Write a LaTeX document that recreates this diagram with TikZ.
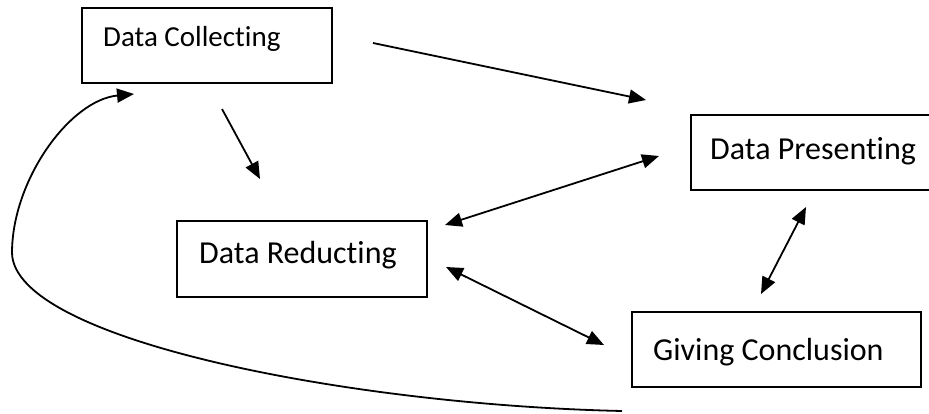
\documentclass[tikz,border=0pt]{standalone}
\usepackage{fontspec}
\setmainfont{Carlito}[Ligatures=NoCommon]
\usetikzlibrary{arrows.meta}
\begin{document}
\begin{tikzpicture}[x=1pt,y=-1pt,
  boxstyle/.style={draw=black, line width=1.1pt, inner sep=0pt},
  labelbig/.style={anchor=base west, inner sep=0pt, font=\fontsize{32}{36}\selectfont},
  labelsmall/.style={anchor=base west, inner sep=0pt, font=\fontsize{29}{33}\selectfont},
  tip/.tip={Triangle[length=17pt,width=14pt]},
  conn/.style={line width=1.8pt, -tip},
  dconn/.style={line width=1.8pt, tip-tip}]
\useasboundingbox (0,0) rectangle (929,414);
% boxes
\draw[boxstyle] (82,8) rectangle (332,83);
\draw[boxstyle] (691,115) rectangle (932,190);
\draw[boxstyle] (177,221) rectangle (427,297);
\draw[boxstyle] (632,312) rectangle (921,387);
% labels
\node[labelsmall] (collect) at (103,47) {Data Collecting};
\node[labelbig] (present) at (710,160) {Data Presenting};
\node[labelbig] (reduce) at (199,263) {Data Reducting};
\node[labelbig] (conclude) at (653,360) {Giving Conclusion};
% connector end points
\coordinate (a1s) at (373,43);
\coordinate (a1e) at (646,100);
\coordinate (a2s) at (222,109);
\coordinate (a2e) at (260,179);
\coordinate (a3s) at (445,225);
\coordinate (a3e) at (659,156);
\coordinate (a4s) at (446,267);
\coordinate (a4e) at (604,345);
\coordinate (a5s) at (806,207);
\coordinate (a5e) at (761,294);
\coordinate (cs) at (622,411);
\coordinate (cm) at (12,253);
\coordinate (ce) at (134,94);
% connectors
\draw[conn] (a1s) -- (a1e);
\draw[conn] (a2s) -- (a2e);
\draw[dconn] (a3s) -- (a3e);
\draw[dconn] (a4s) -- (a4e);
\draw[dconn] (a5s) -- (a5e);
\draw[conn] (cs) .. controls (350,405) and (14,340) .. (cm)
  .. controls (12,180) and (70,100) .. (ce);
\end{tikzpicture}
\end{document}
